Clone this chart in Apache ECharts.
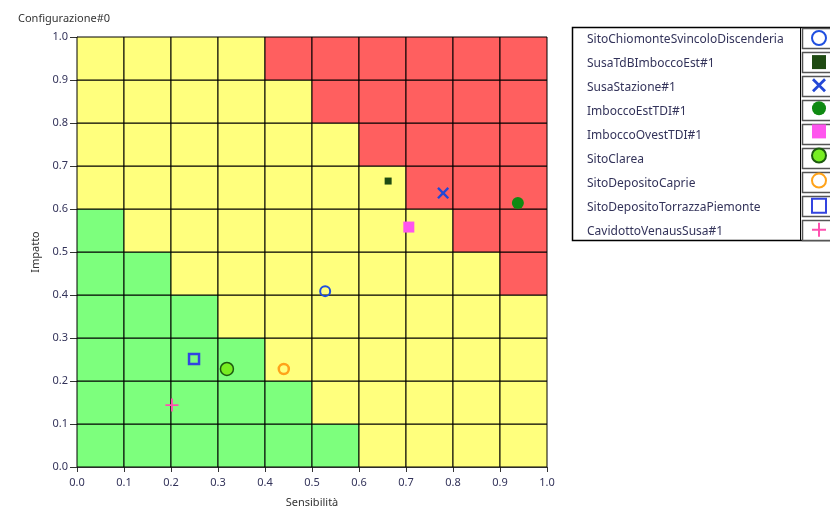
<!DOCTYPE html>
<html><head><meta charset="utf-8">
<script src="https://cdn.jsdelivr.net/npm/echarts@6/dist/echarts.min.js"></script>
<style>html,body{margin:0;padding:0;background:#fff}#c{width:830px;height:508px}</style>
</head><body><div id="c"></div>
<script>
// Zone matrix: rows from Impatto 0.0-0.1 (first) up to 0.9-1.0 (last), columns Sensibilità 0.0-0.1 ... 0.9-1.0
const zoneRows = [
  ['G','G','G','G','G','G','Y','Y','Y','Y'],
  ['G','G','G','G','G','Y','Y','Y','Y','Y'],
  ['G','G','G','G','Y','Y','Y','Y','Y','Y'],
  ['G','G','G','Y','Y','Y','Y','Y','Y','Y'],
  ['G','G','Y','Y','Y','Y','Y','Y','Y','R'],
  ['G','Y','Y','Y','Y','Y','Y','Y','R','R'],
  ['Y','Y','Y','Y','Y','Y','Y','R','R','R'],
  ['Y','Y','Y','Y','Y','Y','R','R','R','R'],
  ['Y','Y','Y','Y','Y','R','R','R','R','R'],
  ['Y','Y','Y','Y','R','R','R','R','R','R']
];
const cellSize = 0.1;
const zoneColors = {G:'#7dff7d', Y:'#ffff7d', R:'#ff5f5f'};

// Points
const pointNames = ['SitoChiomonteSvincoloDiscenderia','SusaTdBImboccoEst#1','SusaStazione#1','ImboccoEstTDI#1','ImboccoOvestTDI#1','SitoClarea','SitoDepositoCaprie','SitoDepositoTorrazzaPiemonte','CavidottoVenausSusa#1'];
const pointX = [0.528, 0.662, 0.779, 0.938, 0.706, 0.319, 0.440, 0.249, 0.202];
const pointY = [0.409, 0.665, 0.637, 0.614, 0.558, 0.228, 0.228, 0.251, 0.144];

const XPATH = 'path://M0,1.4L1.4,0L5,3.6L8.6,0L10,1.4L6.4,5L10,8.6L8.6,10L5,6.4L1.4,10L0,8.6L3.6,5Z';
const PLUSPATH = 'path://M4.3,0H5.7V4.3H10V5.7H5.7V10H4.3V5.7H0V4.3H4.3Z';
const styles = [
  {symbol:'circle', size:10, item:{color:'rgba(0,0,0,0)', borderColor:'#1f4fe0', borderWidth:2}},
  {symbol:'rect', size:7, item:{color:'#1e4a12'}},
  {symbol:XPATH, size:12, item:{color:'#2347d6'}},
  {symbol:'circle', size:12, item:{color:'#0f8a12'}},
  {symbol:'rect', size:11, item:{color:'#ff55ee'}},
  {symbol:'circle', size:13, item:{color:'#77ee22', borderColor:'#1d5a10', borderWidth:1.5}},
  {symbol:'circle', size:10, item:{color:'rgba(0,0,0,0)', borderColor:'#ffa31a', borderWidth:2.5}},
  {symbol:'rect', size:10, item:{color:'rgba(0,0,0,0)', borderColor:'#3344e0', borderWidth:2.5}},
  {symbol:PLUSPATH, size:13, item:{color:'#ff4fb0'}}
];

const cellData = [];
zoneRows.forEach((row, j) => row.forEach((z, i) => cellData.push([i*cellSize, j*cellSize, z])));

const series = [{
  type:'custom', silent:true, z:1,
  data: cellData,
  renderItem: function(params, api){
    const x = api.value(0), y = api.value(1);
    const p0 = api.coord([x, y + cellSize]);
    const p1 = api.coord([x + cellSize, y]);
    return {type:'rect', shape:{x:p0[0], y:p0[1], width:p1[0]-p0[0], height:p1[1]-p0[1]},
      style:{fill: zoneColors[cellData[params.dataIndex][2]], stroke:'#000', lineWidth:1}};
  }
}];
pointNames.forEach((n, k) => {
  series.push({type:'scatter', name:n, z:5, symbol:styles[k].symbol, symbolSize:styles[k].size,
    itemStyle:Object.assign({opacity:1}, styles[k].item), data:[[pointX[k], pointY[k]]]});
});

const legendRowTops = pointNames.map((_, k) => 28 + k*24);
const graphics = [
  {type:'rect', shape:{x:572.5, y:27.5, width:300, height:213}, style:{fill:'none', stroke:'#000', lineWidth:1.5}, z:-1},
  {type:'line', shape:{x1:800.5, y1:27.5, x2:800.5, y2:240.5}, style:{stroke:'#000', lineWidth:1}, z:-1}
];
legendRowTops.forEach(t => graphics.push({type:'rect', shape:{x:802.5, y:t+0.5, width:40, height:20}, style:{fill:'#fff', stroke:'#555', lineWidth:1.5}, z:-1}));

const chart = echarts.init(document.getElementById('c'));
chart.setOption({
  animation:false,
  backgroundColor:'#fff',
  title:{text:'Configurazione#0', left:13, top:8, textStyle:{fontSize:11, fontWeight:'normal', color:'#333', fontFamily:'Noto Sans'}},
  grid:{left:77, right:283, top:37, bottom:41, outerBoundsMode:'none', containLabel:false},
  xAxis:{type:'value', min:0, max:1, interval:0.1, name:'Sensibilità', nameLocation:'middle', nameGap:30,
    nameTextStyle:{fontSize:11, color:'#333', fontFamily:'Noto Sans'},
    axisLine:{lineStyle:{color:'#555'}}, axisTick:{length:5, lineStyle:{color:'#333'}},
    axisLabel:{fontSize:11, color:'#33335a', margin:10, fontFamily:'Noto Sans', formatter:v=>v.toFixed(1)}, splitLine:{show:false}},
  yAxis:{type:'value', min:0, max:1, interval:0.1, name:'Impatto', nameLocation:'middle', nameGap:30,
    nameTextStyle:{fontSize:11, color:'#333', fontFamily:'Noto Sans'},
    axisLine:{lineStyle:{color:'#555'}}, axisTick:{length:7, lineStyle:{color:'#333'}},
    axisLabel:{fontSize:11, color:'#33335a', margin:9, fontFamily:'Noto Sans', formatter:v=>v.toFixed(1)}, splitLine:{show:false}},
  legend:[
    {orient:'vertical', left:577, top:28, itemGap:10, align:'left', itemWidth:0, itemHeight:14,
     selectedMode:false, data:pointNames, itemStyle:{opacity:0, borderWidth:0},
     textStyle:{fontSize:12, lineHeight:14, color:'#33335a', fontFamily:'Noto Sans'}},
    {orient:'vertical', left:806, top:25, itemGap:9.1, align:'left', itemWidth:14, itemHeight:14,
     selectedMode:false, data:pointNames, formatter:()=>'',
     textStyle:{fontSize:12, lineHeight:14}}
  ],
  graphic: graphics,
  series: series
});
</script></body></html>
